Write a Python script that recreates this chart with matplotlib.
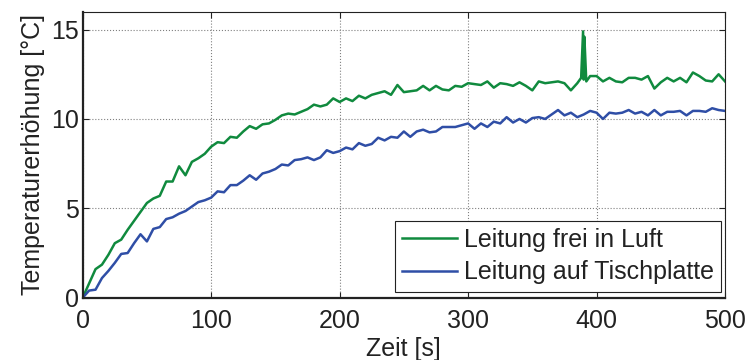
import numpy as np
import matplotlib
matplotlib.use('Agg')
import matplotlib.pyplot as plt

plt.rcParams['font.family'] = ['Liberation Sans', 'DejaVu Sans']

# time axis in seconds (5 s steps)
zeit = np.arange(0, 505, 5)

frei_luft = [0.0, 0.8, 1.6, 1.85, 2.4, 3.05, 3.25, 3.8, 4.3, 4.8,
             5.3, 5.55, 5.7, 6.5, 6.5, 7.35, 6.85, 7.6, 7.8, 8.05,
             8.45, 8.7, 8.65, 9.0, 8.95, 9.3, 9.6, 9.45, 9.7, 9.75,
             9.95, 10.2, 10.3, 10.25, 10.4, 10.55, 10.8, 10.7, 10.8, 11.15,
             10.95, 11.15, 11.0, 11.3, 11.15, 11.35, 11.45, 11.55, 11.35, 11.9,
             11.5, 11.55, 11.6, 11.85, 11.6, 11.85, 11.65, 11.6, 11.85, 11.8,
             12.0, 11.95, 11.9, 12.1, 11.75, 12.0, 11.95, 11.85, 12.05, 11.85,
             11.6, 12.1, 12.0, 12.05, 12.1, 12.0, 11.6, 12.0, 12.2, 12.4,
             12.4, 12.1, 12.3, 12.1, 12.05, 12.3, 12.3, 12.2, 12.4, 11.7,
             12.05, 12.3, 12.1, 12.3, 12.05, 12.6, 12.4, 12.15, 12.1, 12.5,
             12.1]

# short spike near 390 s
spike_t = [388, 389.5, 390.5, 392]
spike_v = [12.3, 14.9, 14.6, 12.1]

tischplatte = [0.0, 0.4, 0.45, 1.1, 1.5, 1.95, 2.45, 2.5, 3.05, 3.55,
               3.15, 3.85, 3.95, 4.4, 4.5, 4.7, 4.85, 5.1, 5.35, 5.45,
               5.6, 5.95, 5.9, 6.3, 6.3, 6.55, 6.85, 6.6, 6.95, 7.05,
               7.2, 7.45, 7.4, 7.7, 7.75, 7.85, 7.7, 7.85, 8.25, 8.1,
               8.2, 8.4, 8.3, 8.65, 8.5, 8.6, 8.95, 8.8, 9.0, 8.95,
               9.3, 9.0, 9.3, 9.4, 9.25, 9.3, 9.55, 9.55, 9.55, 9.65,
               9.75, 9.45, 9.75, 9.55, 9.85, 9.75, 10.1, 9.8, 10.0, 9.8,
               10.05, 10.1, 10.0, 10.25, 10.5, 10.2, 10.35, 10.1, 10.25, 10.45,
               10.35, 10.0, 10.35, 10.3, 10.35, 10.5, 10.3, 10.4, 10.2, 10.5,
               10.2, 10.4, 10.4, 10.45, 10.2, 10.45, 10.45, 10.4, 10.6, 10.5,
               10.45]

labels = ['Leitung frei in Luft', 'Leitung auf Tischplatte']

# merge the spike points into the green series
t_gruen = np.concatenate([zeit, spike_t])
v_gruen = np.concatenate([frei_luft, spike_v])
order = np.argsort(t_gruen)
t_gruen = t_gruen[order]
v_gruen = v_gruen[order]

fs = 18
txt = '#222222'

fig = plt.figure(figsize=(7.49, 3.6), dpi=100)
ax = fig.add_axes([0.1104, 0.173, 0.8576, 0.7945])

ax.plot(t_gruen, v_gruen, color='#108a3e', lw=1.8, label=labels[0])
ax.plot(zeit, tischplatte, color='#2f4ea6', lw=1.8, label=labels[1])

ax.set_xlim(0, 500)
ax.set_ylim(0, 16)
ax.set_xticks([0, 100, 200, 300, 400, 500])
ax.set_yticks([0, 5, 10, 15])
ax.grid(True, color='#808080', linestyle=':', linewidth=0.8)
ax.tick_params(direction='in', length=4, width=0.8, top=True, right=True,
               labelsize=fs, colors=txt, pad=3)
ax.tick_params(axis='x', pad=8)
for s in ['top', 'right']:
    ax.spines[s].set_linewidth(0.8)
for s in ['left', 'bottom']:
    ax.spines[s].set_linewidth(1.6)
for s in ax.spines.values():
    s.set_color(txt)

ax.set_xlabel('Zeit [s]', fontsize=fs, color=txt, labelpad=3)
ax.set_ylabel('Temperaturerhöhung [°C]', fontsize=fs, color=txt, labelpad=4)

leg = ax.legend(loc='lower right', bbox_to_anchor=(0.994, 0.02), borderaxespad=0,
                fontsize=fs, fancybox=False, framealpha=1, edgecolor=txt,
                handlelength=2.2, handletextpad=0.25, labelspacing=0.33,
                borderpad=0.3)
leg.get_frame().set_linewidth(0.8)
for t in leg.get_texts():
    t.set_color(txt)

fig.savefig('out.png', dpi=100)
